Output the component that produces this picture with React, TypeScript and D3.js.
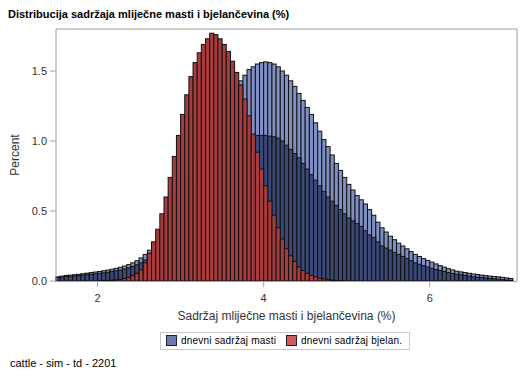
import React from "react";
import * as d3 from "d3";

const BIN = 0.05;
const fatStart = 1.5;
const fatOuter = [
  0.03, 0.035, 0.04, 0.042, 0.045, 0.048, 0.052, 0.056, 0.06, 0.064,
  0.068, 0.073, 0.078, 0.084, 0.09, 0.098, 0.107, 0.117, 0.13, 0.145,
  0.165, 0.19, 0.22, 0.26, 0.3, 0.35, 0.4, 0.46, 0.52, 0.59,
  0.66, 0.73, 0.8, 0.87, 0.94, 1.01, 1.08, 1.15, 1.21, 1.27,
  1.32, 1.36, 1.39, 1.41, 1.43, 1.47, 1.51, 1.53, 1.55, 1.56,
  1.565, 1.56, 1.55, 1.53, 1.5, 1.47, 1.43, 1.39, 1.34, 1.29,
  1.24, 1.19, 1.13, 1.07, 1.01, 0.96, 0.9, 0.84, 0.79, 0.74,
  0.69, 0.65, 0.61, 0.58, 0.55, 0.51, 0.47, 0.42, 0.38, 0.35,
  0.32, 0.295, 0.27, 0.25, 0.23, 0.21, 0.19, 0.175, 0.16, 0.147,
  0.135, 0.122, 0.11, 0.099, 0.088, 0.079, 0.07, 0.065, 0.06, 0.055,
  0.05, 0.046, 0.042, 0.038, 0.035, 0.032, 0.03, 0.026, 0.022, 0.018,
];
const fatInner = [
  0.025, 0.028, 0.032, 0.034, 0.036, 0.039, 0.042, 0.045, 0.048, 0.051,
  0.055, 0.058, 0.062, 0.067, 0.072, 0.078, 0.086, 0.094, 0.104, 0.116,
  0.13, 0.15, 0.18, 0.21, 0.25, 0.29, 0.33, 0.38, 0.43, 0.48,
  0.53, 0.58, 0.63, 0.68, 0.73, 0.78, 0.82, 0.86, 0.9, 0.93,
  0.96, 0.98, 1.0, 1.01, 1.02, 1.03, 1.035, 1.04, 1.04, 1.04,
  1.04, 1.035, 1.03, 1.02, 1.0, 0.97, 0.94, 0.91, 0.88, 0.84,
  0.8, 0.76, 0.72, 0.68, 0.64, 0.6, 0.57, 0.54, 0.51, 0.48,
  0.45, 0.43, 0.41, 0.39, 0.36, 0.33, 0.31, 0.28, 0.25, 0.235,
  0.22, 0.205, 0.19, 0.175, 0.16, 0.145, 0.13, 0.12, 0.11, 0.1,
  0.09, 0.082, 0.075, 0.068, 0.06, 0.054, 0.048, 0.044, 0.04, 0.035,
  0.03, 0.027, 0.025, 0.021, 0.018, 0.016, 0.014, 0.01, 0.007, 0.005,
];
const protStart = 2.0;
const protein = [
  0.002, 0.003, 0.004, 0.006, 0.008, 0.012, 0.018, 0.026, 0.038, 0.055,
  0.08, 0.13, 0.2, 0.28, 0.37, 0.48, 0.6, 0.74, 0.89, 1.04,
  1.19, 1.33, 1.46, 1.56, 1.63, 1.69, 1.73, 1.77, 1.76, 1.73,
  1.69, 1.64, 1.57, 1.49, 1.4, 1.3, 1.18, 1.05, 0.92, 0.8,
  0.68, 0.57, 0.47, 0.38, 0.3, 0.23, 0.18, 0.14, 0.1, 0.075,
  0.055, 0.04, 0.03, 0.02, 0.015, 0.01, 0.007, 0.005, 0.003, 0.002,
];
const xTicks = [2, 4, 6];
const yTicks = [0, 0.5, 1.0, 1.5];
const legendItems = ["dnevni sadržaj masti", "dnevni sadržaj bjelan."];

const W = 529, H = 378;
const L = 56, R = 517, T = 29, B = 281;
const x = d3.scaleLinear().domain([1.5, 7.05]).range([L, R]);
const y = d3.scaleLinear().domain([0, 1.8]).range([B, T]);
const font = "'Liberation Sans', Arial, sans-serif";

function Bars({ start, values, fill, stroke }: { start: number; values: number[]; fill: string; stroke: string }) {
  return (
    <g>
      {values.map((v, i) => {
        const x0 = x(start + i * BIN);
        const x1 = x(start + (i + 1) * BIN);
        return (
          <rect key={i} x={x0} y={y(v)} width={x1 - x0} height={B - y(v)}
            fill={fill} stroke={stroke} strokeWidth={1} />
        );
      })}
    </g>
  );
}

export default function App() {
  return (
    <svg width={W} height={H} style={{ position: "absolute", left: 0, top: 0, background: "#fff" }} fontFamily={font}>
      <text x={8} y={18} fontSize={11} fontWeight="bold" fill="#000">Distribucija sadržaja mliječne masti i bjelančevina (%)</text>
      <Bars start={fatStart} values={fatOuter} fill="#8090c4" stroke="#111" />
      <Bars start={fatStart} values={fatInner} fill="#3c4878" stroke="#111" />
      <Bars start={protStart} values={protein} fill="#a83c3c" stroke="#111" />
      {/* frame */}
      <line x1={L} x2={R} y1={T} y2={T} stroke="#a0a0a0" />
      <line x1={R} x2={R} y1={T} y2={B} stroke="#a0a0a0" />
      <line x1={L} x2={L} y1={T} y2={B} stroke="#a0a0a0" />
      <line x1={L} x2={R} y1={B + 0.5} y2={B + 0.5} stroke="#a0a0a0" />
      {yTicks.map((t) => (
        <g key={t}>
          <line x1={L - 6} x2={L} y1={y(t)} y2={y(t)} stroke="#a0a0a0" />
          <text x={L - 9} y={y(t) + 4} fontSize={11} textAnchor="end" fill="#333">{t.toFixed(1)}</text>
        </g>
      ))}
      {xTicks.map((t) => (
        <g key={t}>
          <line x1={x(t)} x2={x(t)} y1={B} y2={B + 6} stroke="#a0a0a0" />
          <text x={x(t)} y={B + 21} fontSize={11} textAnchor="middle" fill="#333">{t}</text>
        </g>
      ))}
      <text transform={`translate(19,${(T + B) / 2}) rotate(-90)`} fontSize={12} textAnchor="middle" fill="#333">Percent</text>
      <text x={(L + R) / 2} y={320} fontSize={12} textAnchor="middle" fill="#333">Sadržaj mliječne masti i bjelančevina (%)</text>
      <rect x={160.5} y={332.5} width={249} height={17} fill="#fff" stroke="#c8c8c8" />
      <rect x={166.5} y={335.5} width={10} height={10} fill="#6b7bb0" stroke="#222" />
      <text x={181} y={344} fontSize={10} letterSpacing={0.2} fill="#000">{legendItems[0]}</text>
      <rect x={286.5} y={335.5} width={10} height={10} fill="#d05a5a" stroke="#222" />
      <text x={301} y={344} fontSize={10} letterSpacing={0.2} fill="#000">{legendItems[1]}</text>
      <text x={10} y={367} fontSize={11} fill="#000">cattle - sim - td - 2201</text>
    </svg>
  );
}
